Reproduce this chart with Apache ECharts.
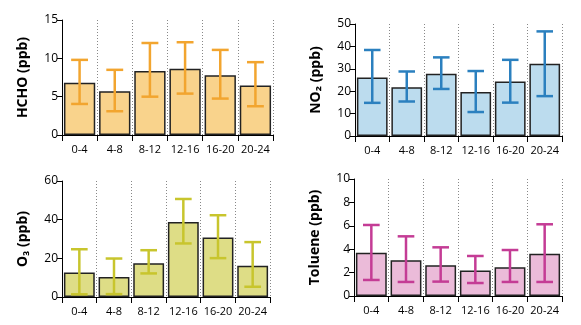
<!DOCTYPE html>
<html><head><meta charset="utf-8">
<script src="https://cdn.jsdelivr.net/npm/echarts@6/dist/echarts.min.js"></script>
<style>html,body{margin:0;padding:0;background:#fff}#c{width:581px;height:325px}</style>
</head><body><div id="c"></div>
<script>
var categories = ['0-4','4-8','8-12','12-16','16-20','20-24'];

var hchoMean = [6.8, 5.7, 8.35, 8.65, 7.8, 6.45];
var hchoHigh = [9.8, 8.5, 12.0, 12.1, 11.1, 9.5];
var hchoLow  = [4.05, 3.1, 5.0, 5.4, 4.75, 3.75];

var no2Mean = [26.1, 21.8, 27.8, 19.6, 24.3, 32.2];
var no2High = [38.4, 28.8, 35.1, 29.0, 34.0, 46.7];
var no2Low  = [14.8, 15.4, 21.0, 10.7, 14.9, 17.8];

var o3Mean = [12.7, 10.3, 17.4, 38.8, 30.8, 16.2];
var o3High = [24.7, 19.9, 24.2, 50.7, 42.3, 28.4];
var o3Low  = [1.4, 1.5, 12.2, 27.7, 20.1, 5.3];

var tolMean = [3.7, 3.05, 2.62, 2.19, 2.45, 3.62];
var tolHigh = [6.07, 5.1, 4.16, 3.42, 3.93, 6.13];
var tolLow  = [1.37, 1.2, 1.23, 1.11, 1.2, 1.2];

var panels = [
  {name:'HCHO (ppb)', max:15, interval:5, mean:hchoMean, hi:hchoHigh, lo:hchoLow, fill:'#f9d38c', err:'#f2a52f',
   grid:{left:62, right:308, top:20, bottom:190}},
  {name:'NO\u2082 (ppb)', max:50, interval:10, mean:no2Mean, hi:no2High, lo:no2Low, fill:'#bcdcee', err:'#2b80bf',
   grid:{left:355, right:19, top:24, bottom:189}},
  {name:'O\u2083 (ppb)', max:60, interval:20, mean:o3Mean, hi:o3High, lo:o3Low, fill:'#dedd86', err:'#c8c52d',
   grid:{left:62, right:311, top:181, bottom:28}},
  {name:'Toluene (ppb)', max:10, interval:2, mean:tolMean, hi:tolHigh, lo:tolLow, fill:'#ebbbd9', err:'#c43c95',
   grid:{left:354, right:19, top:179, bottom:29}}
];

var grids=[], xAxes=[], yAxes=[], series=[];
panels.forEach(function(p, i){
  grids.push(p.grid);
  xAxes.push({
    type:'category', data:categories, gridIndex:i,
    axisLine:{lineStyle:{color:'#000', width:1}},
    axisTick:{show:true, interval:0, length:6, lineStyle:{color:'#000'}},
    axisLabel:{interval:0, color:'#000', fontSize:11, fontFamily:'Open Sans', margin:9},
    splitLine:{show:true, interval:0, lineStyle:{color:'#888', type:[1,2], width:1}}
  });
  yAxes.push({
    type:'value', gridIndex:i, min:0, max:p.max, interval:p.interval,
    name:p.name, nameLocation:'middle', nameRotate:90, nameGap:32,
    nameTextStyle:{color:'#000', fontSize:14, fontWeight:'bold', fontFamily:'Open Sans'},
    axisLine:{show:true, lineStyle:{color:'#000', width:1}},
    axisTick:{show:true, length:5, lineStyle:{color:'#000'}},
    axisLabel:{color:'#000', fontSize:12, fontFamily:'Open Sans', margin:4},
    splitLine:{show:false}
  });
  series.push({
    type:'bar', xAxisIndex:i, yAxisIndex:i, data:p.mean, barCategoryGap:'11%',
    itemStyle:{color:p.fill, borderColor:'#222', borderWidth:1.5}, z:2
  });
  var errData = p.mean.map(function(v,k){ return [k, p.lo[k], p.hi[k]]; });
  series.push({
    type:'custom', xAxisIndex:i, yAxisIndex:i, data:errData, z:5,
    renderItem:function(params, api){
      var x = api.value(0);
      var lo = api.coord([x, api.value(1)]);
      var hi = api.coord([x, api.value(2)]);
      var hw = api.size([1,0])[0]*0.24;
      var st = {stroke:p.err, lineWidth:2.5};
      return {type:'group', children:[
        {type:'line', shape:{x1:lo[0], y1:lo[1], x2:hi[0], y2:hi[1]}, style:st},
        {type:'line', shape:{x1:hi[0]-hw, y1:hi[1], x2:hi[0]+hw, y2:hi[1]}, style:st},
        {type:'line', shape:{x1:lo[0]-hw, y1:lo[1], x2:lo[0]+hw, y2:lo[1]}, style:st}
      ]};
    }
  });
});

var chart = echarts.init(document.getElementById('c'), null, {renderer:'canvas'});
chart.setOption({animation:false, grid:grids, xAxis:xAxes, yAxis:yAxes, series:series});
</script></body></html>
